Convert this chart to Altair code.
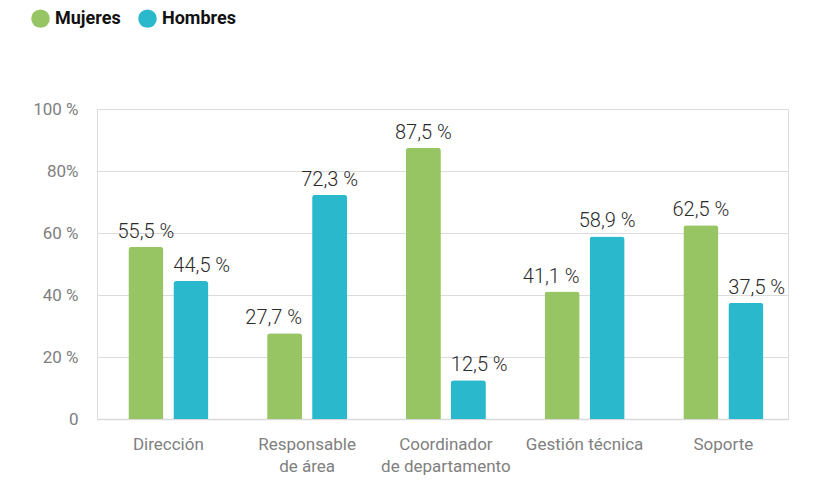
import altair as alt
import pandas as pd

# ---- data ----
categories = ["Dirección", "Responsable|de área", "Coordinador|de departamento",
              "Gestión técnica", "Soporte"]
series = ["Mujeres", "Hombres"]
mujeres = [55.5, 27.7, 87.5, 41.1, 62.5]
hombres = [44.5, 72.3, 12.5, 58.9, 37.5]
colors = ["#98c563", "#2ab8cd"]
y_ticks = [0, 20, 40, 60, 80, 100]

rows = []
for i, cat in enumerate(categories):
    for s, vals, other in (("Mujeres", mujeres, hombres), ("Hombres", hombres, mujeres)):
        v = vals[i]
        o = other[i]
        if v >= o:
            pos = "high"
        else:
            pos = "low_m" if s == "Mujeres" else "low_h"
        rows.append({
            "cat": cat,
            "serie": s,
            "value": v,
            "label": f"{v:.1f}".replace(".", ",") + " %",
            "pos": pos,
        })
df = pd.DataFrame(rows)

FONT = "Roboto"

x_enc = alt.X(
    "cat:N",
    sort=categories,
    scale=alt.Scale(paddingInner=0.4234, paddingOuter=0.2018, align=0.56),
    axis=alt.Axis(
        title=None, labelAngle=0, ticks=False, domain=True,
        domainColor="#d9d9d9", domainWidth=1.5,
        labelPadding=17, labelFontSize=17, labelColor="#808080",
        labelLineHeight=22, labelFont=FONT,
        labelExpr="split(datum.label, '|')",
    ),
)
xo_enc = alt.XOffset("serie:N", sort=series,
                     scale=alt.Scale(paddingInner=0.222, paddingOuter=0))
y_enc = alt.Y(
    "value:Q",
    scale=alt.Scale(domain=[0, 100]),
    axis=alt.Axis(
        title=None, values=y_ticks, grid=True, gridColor="#dcdcdc",
        domain=False, ticks=False, labelPadding=19, labelFontSize=17,
        labelColor="#808080", labelFont=FONT,
        labelExpr="datum.value == 0 ? '0' : (datum.value == 80 ? '80%' : datum.value + ' %')",
    ),
)

base = alt.Chart(df)

bars = base.mark_bar(cornerRadiusTopLeft=3, cornerRadiusTopRight=3).encode(
    x=x_enc,
    xOffset=xo_enc,
    y=y_enc,
    color=alt.Color(
        "serie:N",
        sort=series,
        scale=alt.Scale(domain=series, range=colors),
        legend=alt.Legend(
            title=None, orient="none", legendX=-66, legendY=-100,
            direction="horizontal", symbolType="circle", symbolSize=342,
            symbolStrokeWidth=0, symbolOpacity=1,
            labelFontSize=18, labelFontWeight="bold", labelColor="#111111",
            labelFont=FONT, labelOffset=5, columnPadding=17, padding=0,
        ),
    ),
)

text_props = dict(fontSize=20, font=FONT, fontWeight=300, color="#2b2b2b",
                  baseline="alphabetic", dy=-9)

t_high = base.transform_filter("datum.pos == 'high'").mark_text(
    align="center", **text_props
).encode(x=x_enc, xOffset=xo_enc, y=y_enc, text="label:N")

t_low_m = base.transform_filter("datum.pos == 'low_m'").mark_text(
    align="right", dx=17.5, **text_props
).encode(x=x_enc, xOffset=xo_enc, y=y_enc, text="label:N")

t_low_h = base.transform_filter("datum.pos == 'low_h'").mark_text(
    align="left", dx=-17.5, **text_props
).encode(x=x_enc, xOffset=xo_enc, y=y_enc, text="label:N")

chart = alt.layer(bars, t_high, t_low_m, t_low_h).properties(
    width=691,
    height=310,
    autosize=alt.AutoSizeParams(type="none"),
    padding={"left": 89, "top": 101, "right": 27, "bottom": 66},
).configure_view(stroke=None).configure(font=FONT)

chart.save("out.html", embed_options={"renderer": "svg", "actions": False})
